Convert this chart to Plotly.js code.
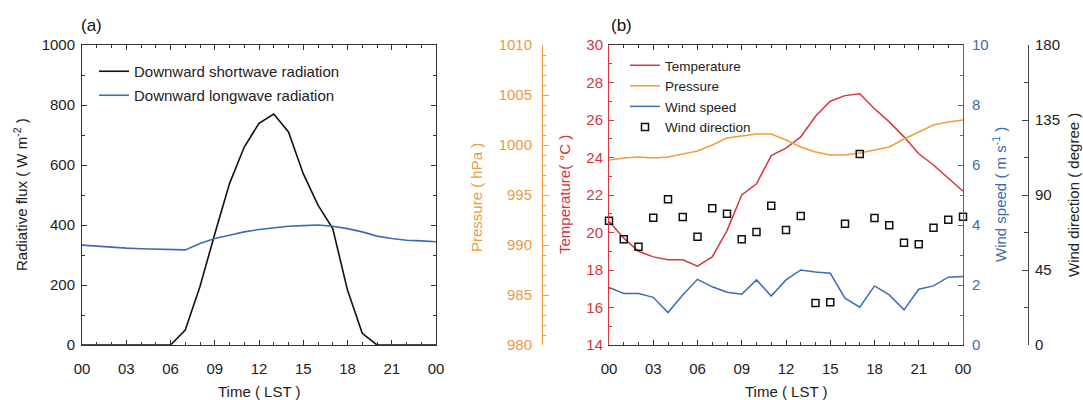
<!DOCTYPE html>
<html><head><meta charset="utf-8">
<script src="https://cdn.plot.ly/plotly-3.0.1.min.js"></script>
<style>html,body{margin:0;padding:0;background:#fff}#chart{width:1083px;height:400px}</style>
</head><body><div id="chart"></div>
<script>
// ---- data ----
const hours = [0,1,2,3,4,5,6,7,8,9,10,11,12,13,14,15,16,17,18,19,20,21,22,23,24];
const hourTickVals = [0,3,6,9,12,15,18,21,24];
const hourTickText = ["00","03","06","09","12","15","18","21","00"];

const shortwave = [0,0,0,0,0,0,0,50,195,370,538,660,739,770,710,571,466,388,183,39,0,0,0,0,0];
const longwave  = [333,329,326,323,321,319,318,317,338,355,366,377,385,391,396,398,400,396,388,377,363,355,349,347,344];

const temperature = [20.6,19.7,19.0,18.7,18.55,18.55,18.2,18.7,20.1,22.0,22.6,24.1,24.5,25.1,26.2,27.0,27.3,27.4,26.6,25.9,25.1,24.2,23.6,22.9,22.2];
const pressure = [998.5,998.7,998.8,998.7,998.8,999.1,999.4,1000.0,1000.7,1000.9,1001.1,1001.1,1000.5,999.8,999.3,999.0,999.0,999.2,999.5,999.8,1000.6,1001.3,1002.0,1002.3,1002.5];
const windSpeed = [1.92,1.72,1.72,1.59,1.08,1.67,2.19,1.94,1.76,1.69,2.17,1.63,2.17,2.5,2.43,2.39,1.56,1.26,1.97,1.67,1.17,1.86,1.97,2.26,2.28];
const windDir = [74.6,63.4,59,76.4,87.4,76.8,65,82,78.8,63.4,67.8,83.6,69,77.4,25.2,25.6,72.8,114.6,76.2,71.8,61.4,60.4,70.4,75.2,77];

const fluxTicks = [0,200,400,600,800,1000];
const tempTicks = [14,16,18,20,22,24,26,28,30];
const presTicks = [980,985,990,995,1000,1005,1010];
const wsTicks = [0,2,4,6,8,10];
const wdTicks = [0,45,90,135,180];

// ---- style ----
const W = 1083, H = 400;
const px = x => x / W, py = y => 1 - y / H;
const FAM = '"Liberation Sans", Arial, Helvetica, sans-serif';
const RED = '#d8363c', ORANGE = '#f29d38', BLUE = '#3b6db3', DARK = '#333333', WD = '#444444';
const RED_T = '#d0373f', ORANGE_T = '#e99a45', BLUE_T = '#3f6aa8';

function baseAxis(color, tcolor) {
  return {
    showline: true, linecolor: color, linewidth: 1,
    ticks: 'inside', ticklen: 5, tickcolor: color, tickwidth: 1,
    showgrid: false, zeroline: false, fixedrange: true,
    tickfont: {family: FAM, size: 15, color: tcolor},
  };
}

const traces = [
  {x: hours, y: shortwave, type: 'scatter', mode: 'lines', name: 'Downward shortwave radiation',
   line: {color: '#111111', width: 1.6}, xaxis: 'x', yaxis: 'y', legend: 'legend', legendgroup: 'a1'},
  {x: hours, y: longwave, type: 'scatter', mode: 'lines', name: 'Downward longwave radiation',
   line: {color: BLUE, width: 1.6}, xaxis: 'x', yaxis: 'y', legend: 'legend', legendgroup: 'a2'},

  {x: hours, y: pressure, type: 'scatter', mode: 'lines', name: 'Pressure',
   line: {color: ORANGE, width: 1.5}, xaxis: 'x2', yaxis: 'y4', legend: 'legend2', legendrank: 2},
  {x: hours, y: temperature, type: 'scatter', mode: 'lines', name: 'Temperature',
   line: {color: RED, width: 1.5}, xaxis: 'x2', yaxis: 'y2', legend: 'legend2', legendrank: 1},
  {x: hours, y: windSpeed, type: 'scatter', mode: 'lines', name: 'Wind speed',
   line: {color: BLUE, width: 1.5}, xaxis: 'x2', yaxis: 'y3', legend: 'legend2', legendrank: 3},
  {x: hours, y: windDir, type: 'scatter', mode: 'markers', name: 'Wind direction',
   marker: {symbol: 'square-open', size: 7, color: '#111111', line: {width: 1.5, color: '#111111'}},
   cliponaxis: false, xaxis: 'x2', yaxis: 'y5', legend: 'legend2', legendrank: 4},
];

const dom = [py(345), py(45)];

const layout = {
  width: W, height: H,
  margin: {l: 0, r: 0, t: 0, b: 0},
  paper_bgcolor: '#ffffff', plot_bgcolor: 'rgba(0,0,0,0)',
  font: {family: FAM, size: 15, color: '#222'},
  showlegend: true,
  xaxis: Object.assign(baseAxis(DARK, '#222'), {
    domain: [px(82), px(436)], range: [0, 24], anchor: 'y',
    tickmode: 'array', tickvals: hourTickVals, ticktext: hourTickText,
    mirror: 'ticks', ticklabelstandoff: 10,
    minor: {tickmode: 'linear', tick0: 0, dtick: 1, ticks: 'inside', ticklen: 3, tickcolor: DARK},
  }),
  yaxis: Object.assign(baseAxis(DARK, '#222'), {
    domain: dom, range: [0, 1000], anchor: 'x',
    tickmode: 'array', tickvals: fluxTicks, mirror: 'ticks', ticklabelstandoff: 3,
    minor: {tickmode: 'linear', tick0: 0, dtick: 100, ticks: 'inside', ticklen: 3, tickcolor: DARK},
  }),
  xaxis2: Object.assign(baseAxis(DARK, '#222'), {
    domain: [px(609), px(963)], range: [0, 24], anchor: 'y2',
    tickmode: 'array', tickvals: hourTickVals, ticktext: hourTickText,
    mirror: 'ticks', ticklabelstandoff: 10,
    minor: {tickmode: 'linear', tick0: 0, dtick: 1, ticks: 'inside', ticklen: 3, tickcolor: DARK},
  }),
  yaxis2: Object.assign(baseAxis(RED, RED_T), {
    domain: dom, range: [14, 30], anchor: 'x2', side: 'left',
    tickmode: 'array', tickvals: tempTicks, ticklabelstandoff: 2,
    minor: {tickmode: 'linear', tick0: 14, dtick: 1, ticks: 'inside', ticklen: 3, tickcolor: RED},
  }),
  yaxis3: Object.assign(baseAxis(BLUE, BLUE_T), {
    domain: dom, range: [0, 10], anchor: 'x2', overlaying: 'y2', side: 'right',
    tickmode: 'array', tickvals: wsTicks, ticklabelstandoff: 5,
    minor: {tickmode: 'linear', tick0: 0, dtick: 1, ticks: 'inside', ticklen: 3, tickcolor: BLUE},
  }),
  yaxis4: Object.assign(baseAxis(ORANGE, ORANGE_T), {
    domain: dom, range: [980, 1010], anchor: 'free', position: px(542), overlaying: 'y2', side: 'left',
    tickmode: 'array', tickvals: presTicks, ticklen: 6, ticklabelstandoff: 7,
    minor: {tickmode: 'linear', tick0: 980, dtick: 1, ticks: 'inside', ticklen: 3, tickcolor: ORANGE},
  }),
  yaxis5: Object.assign(baseAxis(WD, '#222'), {
    domain: dom, range: [0, 180], anchor: 'free', position: px(1028), overlaying: 'y2', side: 'right',
    tickmode: 'array', tickvals: wdTicks, ticklen: 6, ticklabelstandoff: 3,
    minor: {tickmode: 'linear', tick0: 0, dtick: 22.5, ticks: 'inside', ticklen: 4, tickcolor: WD},
  }),
  legend: {
    x: px(94), y: py(55), xanchor: 'left', yanchor: 'top',
    bgcolor: 'rgba(0,0,0,0)', borderwidth: 0, tracegroupgap: 1.5, traceorder: 'grouped',
    font: {family: FAM, size: 15, color: '#222'},
  },
  legend2: {
    x: px(625), y: py(50), xanchor: 'left', yanchor: 'top',
    bgcolor: 'rgba(0,0,0,0)', borderwidth: 0, tracegroupgap: 0, traceorder: 'normal',
    font: {family: FAM, size: 13.5, color: '#222'},
  },
  annotations: [
    {text: '(a)', x: px(91), y: py(26), font: {family: FAM, size: 17, color: '#111'}},
    {text: '(b)', x: px(621), y: py(25), font: {family: FAM, size: 17, color: '#111'}},
    {text: 'Radiative flux ( W m<sup>-2</sup> )', x: px(20), y: py(195), textangle: -90, font: {family: FAM, size: 15, color: '#222'}},
    {text: 'Time ( LST )', x: px(259), y: py(391), font: {family: FAM, size: 15, color: '#222'}},
    {text: 'Time ( LST )', x: px(786), y: py(391), font: {family: FAM, size: 15, color: '#222'}},
    {text: 'Pressure ( hPa )', x: px(476), y: py(198), textangle: -90, font: {family: FAM, size: 15, color: ORANGE_T}},
    {text: 'Temperature( °C )', x: px(564), y: py(195), textangle: -90, font: {family: FAM, size: 15, color: RED_T}},
    {text: 'Wind speed ( m s<sup>-1</sup> )', x: px(999), y: py(195), textangle: -90, font: {family: FAM, size: 15, color: BLUE_T}},
    {text: 'Wind direction ( degree )', x: px(1073), y: py(195), textangle: -90, font: {family: FAM, size: 15, color: '#222'}},
  ].map(a => Object.assign({xref: 'paper', yref: 'paper', showarrow: false, xanchor: 'center', yanchor: 'middle'}, a)),
};

Plotly.newPlot('chart', traces, layout, {displayModeBar: false, staticPlot: true});
</script>
</body></html>
